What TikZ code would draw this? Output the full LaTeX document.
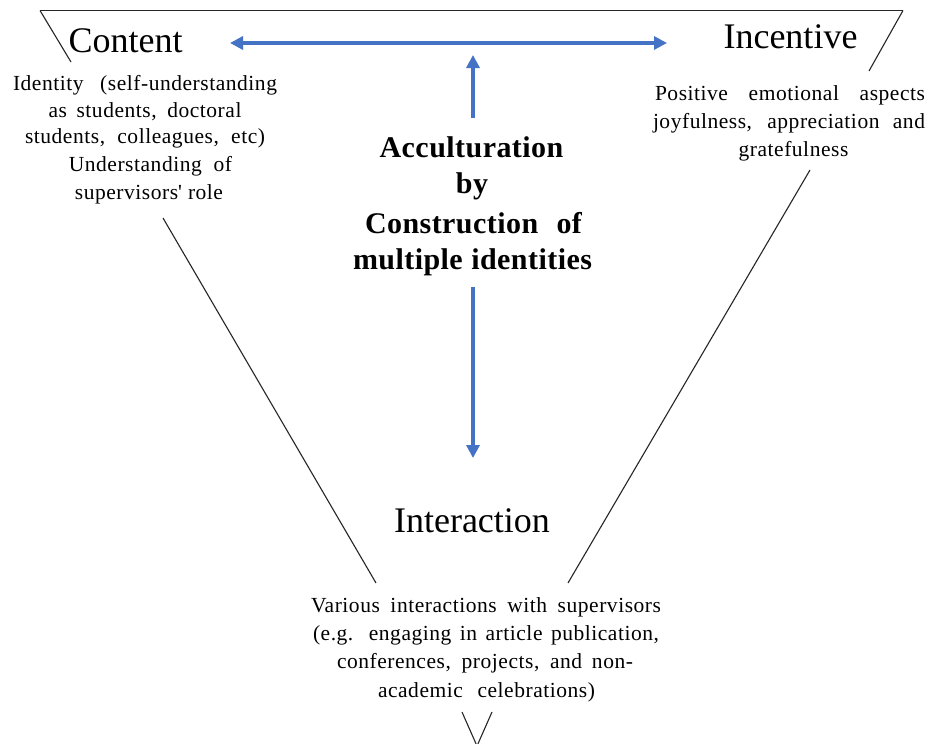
\documentclass[tikz,border=0pt]{standalone}
\usepackage{fontspec}
\setmainfont{Liberation Serif}
\newfontfamily\spacedserif[LetterSpace=2.5]{Liberation Serif}
\newfontfamily\spacedbold[LetterSpace=1.5]{Liberation Serif Bold}
\usetikzlibrary{arrows.meta}
\definecolor{arrowblue}{HTML}{4472C4}

% one line of text stretched to a given width at its word gaps
\newcommand{\sline}[2]{\makebox[#1][s]{#2}}

\begin{document}
\begin{tikzpicture}[x=1pt,y=-1pt,
  frame/.style={draw=black!85, line width=1.1pt},
  bluearrow/.style={draw=arrowblue, line width=3.2pt, -{Triangle[length=13pt,width=13pt]}},
  bluedouble/.style={draw=arrowblue, line width=3.2pt,
    {Triangle[length=13pt,width=13pt]}-{Triangle[length=13pt,width=13pt]}},
  big/.style={inner sep=0, anchor=base, font=\fontsize{36}{40}\selectfont},
  small/.style={inner sep=0, anchor=base, font=\spacedserif\fontsize{21.5}{26}\selectfont},
  core/.style={inner sep=0, anchor=base, font=\spacedbold\fontsize{30}{36}\selectfont},
]
\useasboundingbox[fill=white] (0,0) rectangle (927,744);

% corner points and visible pieces of the inverted triangle
\coordinate (tl) at (40,10.5);
\coordinate (tr) at (903,10.5);
\coordinate (la) at (71,62);
\coordinate (lb) at (163,218);
\coordinate (lc) at (376,583);
\coordinate (ra) at (869,71);
\coordinate (rb) at (810,170);
\coordinate (rc) at (568,583);
\coordinate (va) at (462,712);
\coordinate (vb) at (477,746);
\coordinate (vc) at (492,712);

\draw[frame] (tl) -- (tr);
\draw[frame] (tl) -- (la);
\draw[frame] (lb) -- (lc);
\draw[frame] (tr) -- (ra);
\draw[frame] (rb) -- (rc);
\draw[frame] (va) -- (vb) -- (vc);

% corner titles
\node[big] (content) at (125.5,52) {Content};
\node[big] (incentive) at (790.5,48) {Incentive};
\node[big] (interaction) at (472,532) {Interaction};

% content description
\node[small] (c1) at (145,90) {\sline{264pt}{Identity (self-understanding}};
\node[small] (c2) at (145,117) {\sline{193pt}{as students, doctoral}};
\node[small] (c3) at (145,143.5) {\sline{240pt}{students, colleagues, etc)}};
\node[small] (c4) at (150.5,171.5) {Understanding\ \ of};
\node[small] (c5) at (149,199) {supervisors\textquotesingle{}\ role};

% incentive description
\node[small] (i1) at (790,100) {\sline{270pt}{Positive emotional aspects}};
\node[small] (i2) at (789,128) {\sline{272pt}{joyfulness, appreciation and}};
\node[small] (i3) at (793.5,156.5) {gratefulness};

% interaction description
\node[small] (b1) at (486,612) {\sline{350pt}{Various interactions with supervisors}};
\node[small] (b2) at (486,640) {\sline{346pt}{(e.g. engaging in article publication,}};
\node[small] (b3) at (485,668) {\sline{296pt}{conferences, projects, and non-}};
\node[small] (b4) at (486.5,697) {\sline{217pt}{academic celebrations)}};

% central statement
\node[core] (k1) at (471.5,157) {Acculturation};
\node[core] (k2) at (472,193) {by};
\node[core] (k3) at (473.5,233) {\sline{217pt}{Construction of}};
\node[core] (k4) at (472.5,269) {\sline{239pt}{multiple identities}};

% blue arrows
\coordinate (hl) at (230,43);
\coordinate (hr) at (667,43);
\coordinate (up0) at (473,118);
\coordinate (up1) at (473,55);
\coordinate (dn0) at (473,287);
\coordinate (dn1) at (473,458);

\draw[bluedouble] (hl) -- (hr);
\draw[bluearrow] (up0) -- (up1);
\draw[bluearrow] (dn0) -- (dn1);
\end{tikzpicture}
\end{document}
